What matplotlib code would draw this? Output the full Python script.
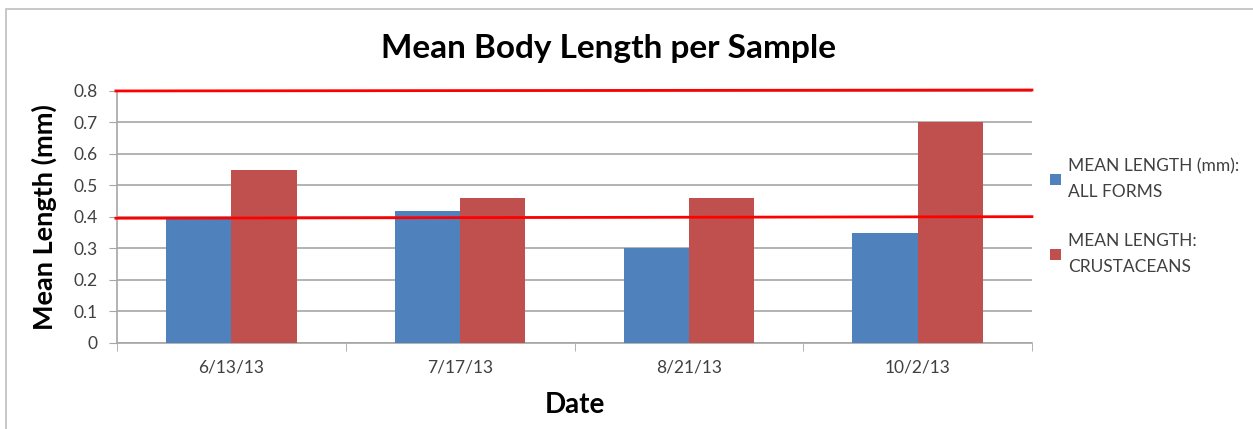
import matplotlib
matplotlib.use("Agg")
import matplotlib.pyplot as plt
from matplotlib.patches import Rectangle
import numpy as np

plt.rcParams['font.family'] = ['Lato', 'DejaVu Sans']

dates = ['6/13/13', '7/17/13', '8/21/13', '10/2/13']
all_forms = [0.40, 0.42, 0.30, 0.35]
crustaceans = [0.55, 0.46, 0.46, 0.70]
series_labels = ['MEAN LENGTH (mm):\nALL FORMS', 'MEAN LENGTH:\nCRUSTACEANS']
# hand-drawn red reference lines: (left value, right value)
ref_lines = [(0.800, 0.803), (0.396, 0.401)]
yticks = [0, 0.1, 0.2, 0.3, 0.4, 0.5, 0.6, 0.7, 0.8]

blue = '#4F81BD'
red = '#C0504D'
txt = '#404040'

fig = plt.figure(figsize=(12.53, 4.29), dpi=100)
ax = fig.add_axes([0.0934, 0.2005, 0.7302, 0.5875])

x = np.arange(len(dates))
w = 0.285
ax.bar(x - w / 2, all_forms, w, color=blue, label=series_labels[0], zorder=3)
ax.bar(x + w / 2, crustaceans, w, color=red, label=series_labels[1], zorder=3)

ax.set_xlim(-0.5, len(dates) - 0.5)
ax.set_ylim(0, 0.8)
ax.set_yticks(yticks)
ax.set_yticklabels(['0' if v == 0 else '%.1f' % v for v in yticks])
ax.yaxis.grid(True, color='#a6a6a6', linewidth=1.2, zorder=0)
ax.set_axisbelow(True)

ax.set_xticks(x)
ax.set_xticklabels(dates)
ax.set_xticks(np.arange(len(dates) + 1) - 0.5, minor=True)
ax.tick_params(axis='x', which='major', length=0, pad=12, labelsize=12.5, labelcolor=txt)
ax.tick_params(axis='x', which='minor', length=6, color='#a6a6a6', direction='out')
ax.tick_params(axis='y', length=6, color='#a6a6a6', pad=8, labelsize=12.5, labelcolor=txt)

for s in ['top', 'right']:
    ax.spines[s].set_visible(False)
for s in ['left', 'bottom']:
    ax.spines[s].set_color('#a6a6a6')
    ax.spines[s].set_linewidth(1.2)

for y0, y1 in ref_lines:
    ax.plot([-0.505, len(dates) - 0.5], [y0, y1], color='#FF0000', linewidth=2,
            zorder=5, clip_on=False)

fig.text(0.486, 0.888, 'Mean Body Length per Sample', fontsize=24, fontweight='bold',
         color='black', ha='center', va='center')
ax.set_ylabel('Mean Length (mm)', fontsize=19.5, fontweight='bold', labelpad=12)
ax.set_xlabel('Date', fontsize=20, fontweight='bold', labelpad=12)

leg = ax.legend(loc='upper left', bbox_to_anchor=(1.003, 0.796), frameon=False,
                fontsize=12.5, handlelength=0.6, handleheight=0.6,
                handletextpad=0.4, labelspacing=1.9)
for t in leg.get_texts():
    t.set_color(txt)
    t.set_linespacing(1.75)

fig.patches.append(Rectangle((0.0048, -0.01), 1.0, 0.988, transform=fig.transFigure,
                             fill=False, edgecolor='#bfbfbf', linewidth=1.2))

fig.savefig('out.png', dpi=100)
